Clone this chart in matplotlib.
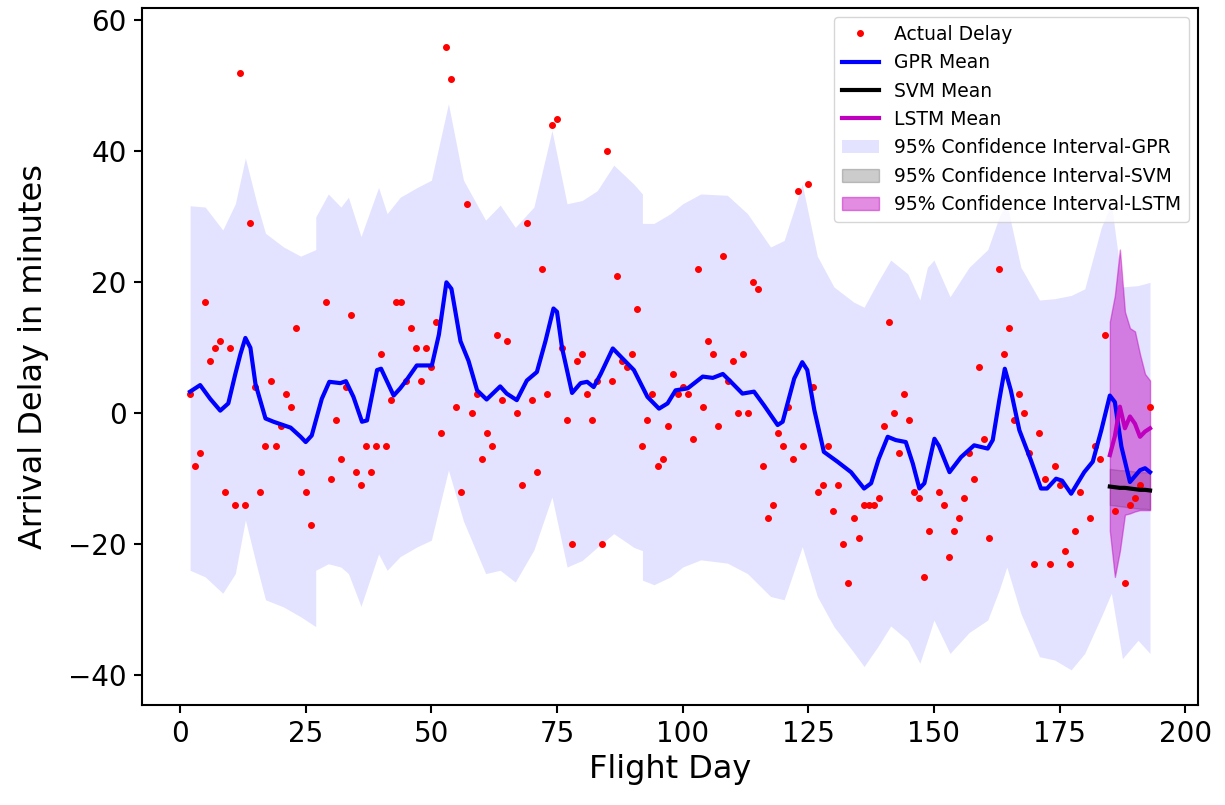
import matplotlib.pyplot as plt

# observed arrival delay per flight day (minutes)
day = [2, 3, 4, 5, 6, 7, 8, 9, 10, 11, 12, 13, 14, 15, 16, 17, 18, 19, 20, 21,
       22, 23, 24, 25, 26, 29, 30, 31, 32, 33, 34, 35, 36, 37, 38, 39, 40, 41,
       42, 43, 44, 45, 46, 47, 48, 49, 50, 51, 52, 53, 54, 55, 56, 57, 58, 59,
       60, 61, 62, 63, 64, 65, 67, 68, 69, 70, 71, 72, 73, 74, 75, 76, 77, 78,
       79, 80, 81, 82, 83, 84, 85, 86, 87, 88, 89, 90, 91, 92, 93, 94, 95, 96,
       97, 98, 99, 100, 101, 102, 103, 104, 105, 106, 107, 108, 109, 110, 111,
       112, 113, 114, 115, 116, 117, 118, 119, 120, 121, 122, 123, 124, 125,
       126, 127, 128, 129, 130, 131, 132, 133, 134, 135, 136, 137, 138, 139,
       140, 141, 142, 143, 144, 145, 146, 147, 148, 149, 151, 152, 153, 154,
       155, 156, 157, 158, 159, 160, 161, 163, 164, 165, 166, 167, 168, 169,
       170, 171, 172, 173, 174, 175, 176, 177, 178, 179, 181, 182, 183, 184,
       186, 188, 189, 190, 191, 193]
delay = [3, -8, -6, 17, 8, 10, 11, -12, 10, -14, 52, -14, 29, 4, -12, -5, 5, -5, -2, 3,
         1, 13, -9, -12, -17, 17, -10, -1, -7, 4, 15, -9, -11, -5, -9, -5, 9, -5,
         2, 17, 17, 5, 13, 10, 5, 10, 7, 14, -3, 56, 51, 1, -12, 32, 0, 3,
         -7, -3, -5, 12, 2, 11, 0, -11, 29, 2, -9, 22, 3, 44, 45, 10, -1, -20,
         8, 9, 3, -1, 5, -20, 40, 5, 21, 8, 7, 9, 16, -5, -1, 3, -8, -7,
         -2, 6, 3, 4, 3, -4, 22, 1, 11, 9, -2, 24, 5, 8, 0,
         9, 0, 20, 19, -8, -16, -14, -3, -5, 1, -7, 34, -5, 35,
         4, -12, -11, -5, -15, -11, -20, -26, -16, -19, -14, -14, -14, -13,
         -2, 14, 0, -6, 3, -1, -12, -13, -25, -18, -12, -14, -22, -18,
         -16, -13, -6, -10, 7, -4, -19, 22, 9, 13, -1, 3, 0, -6,
         -23, -3, -10, -23, -8, -11, -21, -23, -18, -12, -16, -5, -7, 12,
         -15, -26, -14, -13, -11, 1]

# GPR predictive mean
gpr_x = [2, 4, 6, 8, 9.6, 11, 12, 13, 14, 15, 17, 18.6, 22, 24, 25, 26.2, 28.2,
         29.7, 31.9, 33, 34.5, 36.2, 37.2, 39.2, 40, 42.5, 43.8, 45, 47.1, 50.1,
         51.5, 53, 54, 55.8, 57.4, 59.1, 61, 63.7, 65, 67, 69, 71, 72.7, 74.3, 75,
         76, 78, 79.7, 81, 82.3, 83.7, 86.1, 88, 90.3, 93, 95.3, 97, 98.6, 101,
         104, 106, 108, 109.6, 111.9, 114.2, 116.2, 118.9, 119.9, 122.2, 123.8,
         124.8, 126.2, 128.1, 130.8, 133.5, 136.1, 137.5, 139, 140.8, 142.4,
         144.4, 145.8, 147.1, 148.1, 150.1, 151, 153.1, 155.4, 158, 160.7, 161.7,
         163, 164.1, 165.3, 167, 169.3, 171.3, 172.5, 174.3, 175.5, 177.3, 179.9,
         181.6, 183.3, 185, 186, 187.3, 189, 191, 192, 193]
gpr_mean = [3.3, 4.3, 2.2, 0.4, 1.5, 6, 9, 11.5, 10, 4.5, -0.8, -1.3, -2.2, -3.6,
            -4.4, -3.4, 2.2, 4.8, 4.6, 4.9, 2.5, -1.3, -1.1, 6.6, 6.8, 2.7, 3.8, 5,
            7.3, 7.3, 12, 20, 19, 11, 8, 3.5, 2.1, 4.1, 3, 2, 5, 6.3, 11, 16, 15.5,
            10, 3.1, 4.6, 4.8, 4, 6, 9.9, 8.4, 6.6, 2.5, 0.7, 1.5, 3.5, 3.8,
            5.6, 5.4, 6, 4.8, 3, 3.3, 1.2, -1.8, -1.3, 5.3, 7.8,
            6.6, 0.5, -5.9, -7.4, -9, -11.5, -10.7, -7, -3.6, -4.1,
            -4.4, -7.7, -11.5, -10.7, -3.9, -5, -9, -6.7, -4.9, -5.4, -4.1,
            2, 6.8, 3.5, -2.6, -7.2, -11.5, -11.5, -10, -10.3, -12.3, -9,
            -7.4, -2.6, 2.7, 1.7, -5.1, -10.5, -8.7, -8.4, -9]

# GPR 95% band (repeated x = seams in the band)
band_x = [2, 5, 8.5, 11, 13, 15.3, 17, 20.6, 24, 27, 27, 29.5, 32, 33.5, 36, 39.5,
          41.2, 43.8, 47.2, 50, 53.4, 56.4, 60.8, 63.7, 66.7, 70.4, 74, 77, 80, 83,
          86.3, 90.3, 92, 92, 94.3, 97.6, 100, 103.6, 108.9, 112.9, 117.5, 120.2,
          123.8, 126.8, 130.1, 134, 136.1, 138.8, 141.4, 144.8, 147.2, 148.7, 150,
          153.2, 157, 160.7, 163, 164.5, 167.3, 171, 174, 177.3, 180, 183.3, 185.3,
          187.5, 190.6, 193]
band_hi = [31.7, 31.5, 28, 32, 39, 32, 27.5, 25.4, 24, 25, 30, 33.5, 31.5, 33, 27, 34.5,
           30.5, 33, 34.5, 35.6, 47.3, 35.6, 29.5, 31.8, 28.4, 31.5, 43.2, 32, 32.5, 34,
           37.9, 35, 33.5, 29, 29, 30.5, 32, 33.5, 33.3, 30.5, 25.4, 26.4,
           35, 24, 19.3, 17, 16.2, 20, 23.4, 21.3, 17.3, 22.3, 23.4,
           17.8, 22.3, 25, 30, 32, 22.3, 17.3, 17.5, 18, 19, 28.4, 32,
           19.3, 19.5, 20]
band_lo = [-24, -25, -27.5, -24.5, -16.3, -23.5, -28.5, -29.6, -31.1, -32.6, -24, -23,
           -23.5, -24.5, -29.5, -21.5, -24, -21.9, -20.4, -19.4, -8.7, -16.5, -24.5,
           -24, -25.8, -20.9, -12.8, -23.5, -22.5, -20.5, -18.4, -20.5, -21, -25.5,
           -26.2, -25, -23.5, -22.4, -22.9, -24.5, -28, -28.5, -20.4, -28, -32.6,
           -36.5, -38.7, -35.7, -32.5, -34.7, -38.2, -34.7, -31.6, -36.7, -33.5,
           -31.6, -27, -23.5, -30.6, -37.2, -37.7, -39.2, -36.7, -31.1, -27.5,
           -37.5, -34.7, -36.7]

# test window forecasts
test_x = [185, 186, 187, 188, 189, 190, 191, 192, 193]
svm_mean = [-11.2, -11.3, -11.4, -11.4, -11.5, -11.6, -11.7, -11.7, -11.8]
svm_hi = [-8.5, -8.6, -8.7, -8.7, -8.8, -8.9, -9.0, -9.0, -9.1]
svm_lo = [-14.0, -14.1, -14.2, -14.3, -14.4, -14.5, -14.6, -14.6, -14.7]
lstm_mean = [-6.4, -3.5, 1, -2.3, -0.5, -1.6, -3.6, -2.8, -2.3]
lstm_hi = [14, 18, 25, 15.5, 13, 12.5, 9, 6, 5]
lstm_lo = [-18, -25, -21, -15.5, -15.3, -15, -14.8, -14.8, -14.8]

fig, ax = plt.subplots(figsize=(12.25, 8.05), dpi=100)
fig.subplots_adjust(left=0.116, right=0.978, top=0.990, bottom=0.124)

ax.plot(day, delay, 'r.', markersize=8, label='Actual Delay')
ax.plot(gpr_x, gpr_mean, 'b-', lw=3, label='GPR Mean')
ax.plot(test_x, svm_mean, 'k-', lw=3, label='SVM Mean')
ax.plot(test_x, lstm_mean, 'm-', lw=3, label='LSTM Mean')
ax.fill_between(band_x, band_lo, band_hi, color='b', alpha=0.11, lw=0,
                label='95% Confidence Interval-GPR')
ax.fill_between(test_x, svm_lo, svm_hi, color='k', alpha=0.2,
                label='95% Confidence Interval-SVM')
ax.fill_between(test_x, lstm_lo, lstm_hi, color='m', alpha=0.45,
                label='95% Confidence Interval-LSTM')

ax.set_xlim(-7.55, 202.55)
ax.set_ylim(-44.6, 61.9)
ax.set_xticks(range(0, 201, 25))
ax.set_yticks(range(-40, 61, 20))
ax.tick_params(labelsize=20, length=6, width=1.5, pad=5)
for s in ax.spines.values():
    s.set_linewidth(1.5)

ax.set_xlabel('Flight Day', fontsize=23)
ax.set_ylabel('Arrival Delay in minutes', fontsize=23)
ax.yaxis.set_label_coords(-0.088, 0.5)
ax.legend(loc='upper right', fontsize=13.5)

fig.savefig('out.png', dpi=100)
